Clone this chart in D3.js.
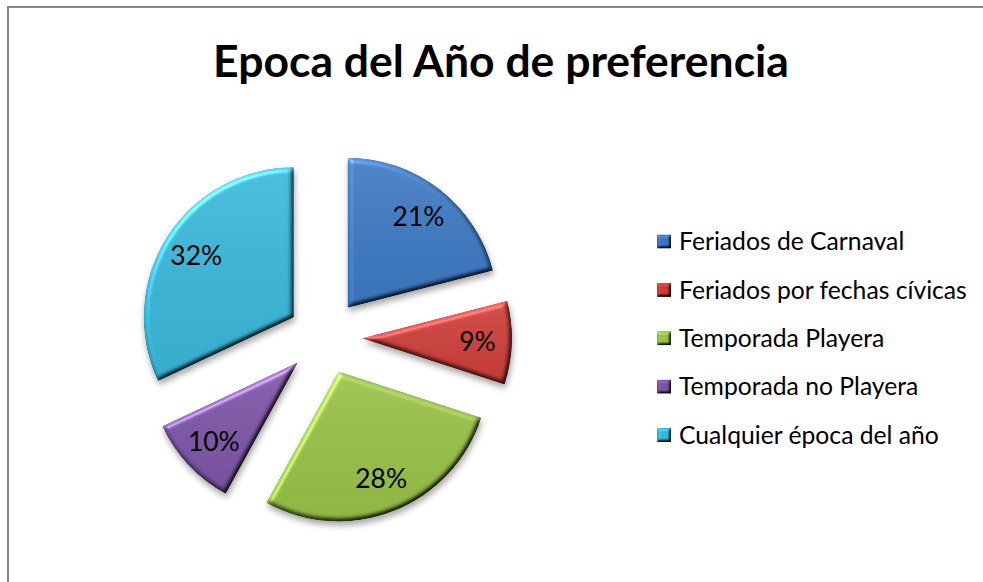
<!DOCTYPE html>
<html><head><meta charset="utf-8">
<script src="https://cdn.jsdelivr.net/npm/d3@7"></script>
<style>
html,body{margin:0;padding:0;background:#fff;}
svg{display:block;}
text{font-family:Lato,"Open Sans",sans-serif;}
</style></head>
<body>
<svg id="c" width="983" height="582"></svg>
<script>
const title = "Epoca del Año de preferencia";
const categories = ["Feriados de Carnaval","Feriados por fechas cívicas","Temporada Playera","Temporada no Playera","Cualquier época del año"];
const values = [21, 9, 28, 10, 32];
const colors = ["#3c78c2","#cc3d39","#97c046","#7c54a6","#38b6d9"];

const W = 983, H = 582;
const svg = d3.select("#c");
const defs = svg.append("defs");

// vertical sheen gradient
const lgGrad = defs.append("linearGradient").attr("id","sheen").attr("x1",0).attr("y1",0).attr("x2",0).attr("y2",1);
lgGrad.append("stop").attr("offset","0%").attr("stop-color","#fff").attr("stop-opacity",0.10);
lgGrad.append("stop").attr("offset","100%").attr("stop-color","#000").attr("stop-opacity",0.06);

// bevel + shadow filter
const f = defs.append("filter").attr("id","bevel")
  .attr("x","-20%").attr("y","-20%").attr("width","140%").attr("height","140%")
  .attr("color-interpolation-filters","sRGB");
f.append("feGaussianBlur").attr("in","SourceAlpha").attr("stdDeviation",2.8).attr("result","blur");
const dl = f.append("feDiffuseLighting").attr("in","blur").attr("surfaceScale",3.5)
  .attr("diffuseConstant",1).attr("lighting-color","#fff").attr("result","diff");
dl.append("feDistantLight").attr("azimuth",235).attr("elevation",55);
f.append("feComposite").attr("in","SourceGraphic").attr("in2","diff")
  .attr("operator","arithmetic").attr("k1",1.22).attr("k2",0).attr("k3",0).attr("k4",0).attr("result","lit");
const sl = f.append("feSpecularLighting").attr("in","blur").attr("surfaceScale",3.5)
  .attr("specularConstant",0.6).attr("specularExponent",35).attr("lighting-color","#fff").attr("result","spec");
sl.append("feDistantLight").attr("azimuth",235).attr("elevation",40);
f.append("feComposite").attr("in","spec").attr("in2","SourceAlpha").attr("operator","in").attr("result","specIn");
f.append("feComposite").attr("in","lit").attr("in2","specIn")
  .attr("operator","arithmetic").attr("k1",0).attr("k2",1).attr("k3",0.45).attr("k4",0).attr("result","bev");
f.append("feComposite").attr("in","bev").attr("in2","SourceAlpha").attr("operator","in").attr("result","bevIn");
f.append("feGaussianBlur").attr("in","SourceAlpha").attr("stdDeviation",3).attr("result","sb");
f.append("feOffset").attr("in","sb").attr("dx",1).attr("dy",4).attr("result","so");
f.append("feComponentTransfer").attr("in","so").attr("result","shadow")
  .append("feFuncA").attr("type","linear").attr("slope",0.35);
const m = f.append("feMerge");
m.append("feMergeNode").attr("in","shadow");
m.append("feMergeNode").attr("in","bevIn");

// small bevel for legend markers
const f2 = defs.append("filter").attr("id","bevelS")
  .attr("x","-30%").attr("y","-30%").attr("width","160%").attr("height","160%")
  .attr("color-interpolation-filters","sRGB");
f2.append("feGaussianBlur").attr("in","SourceAlpha").attr("stdDeviation",1.5).attr("result","blur");
const dl2 = f2.append("feDiffuseLighting").attr("in","blur").attr("surfaceScale",3)
  .attr("diffuseConstant",1).attr("lighting-color","#fff").attr("result","diff");
dl2.append("feDistantLight").attr("azimuth",235).attr("elevation",55);
f2.append("feComposite").attr("in","SourceGraphic").attr("in2","diff")
  .attr("operator","arithmetic").attr("k1",1.22).attr("k2",0).attr("k3",0).attr("k4",0).attr("result","lit");
f2.append("feComposite").attr("in","lit").attr("in2","SourceAlpha").attr("operator","in");

// border
svg.append("path").attr("d",`M8,${H+5}V7H${W+5}`).attr("fill","none")
  .attr("stroke","#868686").attr("stroke-width",2);

// title
const t = svg.append("text").attr("x",501).attr("y",77).attr("text-anchor","middle")
  .attr("font-weight","bold").attr("font-size",40).attr("fill","#000").text(title);
const tw = t.node().getComputedTextLength();
t.attr("font-size", 40*576/tw);

// pie
const cx = 325, cy = 337, r = 150, explode = 37;
const pie = d3.pie().sort(null).value(d=>d)(values);
const arc = d3.arc().innerRadius(0).outerRadius(r);
const labelArc = d3.arc().innerRadius(r*0.77).outerRadius(r*0.77);
const g = svg.append("g").attr("transform",`translate(${cx},${cy})`);
const slices = g.selectAll("g.slice").data(pie).join("g").attr("class","slice")
  .attr("transform", d=>{const a=(d.startAngle+d.endAngle)/2; return `translate(${Math.sin(a)*explode},${-Math.cos(a)*explode})`;});
const sg = slices.append("g").attr("filter","url(#bevel)");
sg.append("path").attr("d",arc).attr("fill",(d,i)=>colors[i]);
sg.append("path").attr("d",arc).attr("fill","url(#sheen)");

// legend font sizing
const probe = svg.append("text").attr("font-size",20).text(categories[1]);
const fs = 20*288/probe.node().getComputedTextLength();
probe.remove();

slices.append("text").attr("transform",d=>`translate(${labelArc.centroid(d)})`)
  .attr("text-anchor","middle").attr("dy","0.35em").attr("font-size",fs*1.07).attr("fill","#000")
  .text(d=>d.value+"%");

// legend
const ly = d3.scalePoint().domain(categories).range([241.5,435]);
const lg = svg.append("g");
const items = lg.selectAll("g").data(categories).join("g")
  .attr("transform",d=>`translate(657,${ly(d)})`);
items.append("rect").attr("x",0).attr("y",-7).attr("width",14).attr("height",14)
  .attr("fill",(d,i)=>colors[i]).attr("filter","url(#bevelS)");
items.append("text").attr("x",22).attr("dy","0.35em").attr("font-size",fs).attr("fill","#000").text(d=>d);
</script>
</body></html>
